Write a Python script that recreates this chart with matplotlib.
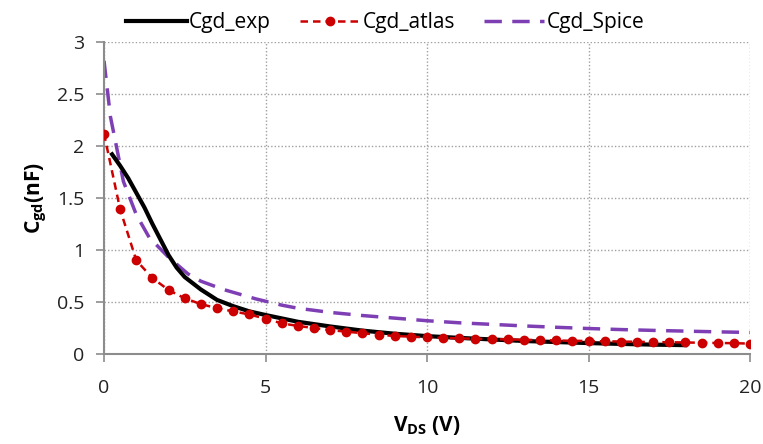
import matplotlib
matplotlib.use("Agg")
import matplotlib.pyplot as plt

# Experimental Cgd
exp_v = [0.25, 0.5, 0.75, 1.0, 1.25, 1.5, 1.75, 2.0, 2.25, 2.5, 3.0, 3.5, 4.0, 4.5, 5.0,
         6.0, 7.0, 8.0, 9.0, 10.0, 11.0, 12.0, 13.0, 14.0, 15.0, 16.0, 17.0, 18.0]
exp_c = [1.92, 1.81, 1.69, 1.55, 1.41, 1.25, 1.10, 0.95, 0.83, 0.74, 0.62, 0.52, 0.46, 0.41, 0.375,
         0.31, 0.265, 0.225, 0.195, 0.172, 0.155, 0.14, 0.125, 0.115, 0.105, 0.097, 0.09, 0.085]

# Atlas simulation
atlas_v = [0.0, 0.5, 1.0, 1.5, 2.0, 2.5, 3.0, 3.5, 4.0, 4.5, 5.0, 5.5, 6.0, 6.5, 7.0, 7.5,
           8.0, 8.5, 9.0, 9.5, 10.0, 10.5, 11.0, 11.5, 12.0, 12.5, 13.0, 13.5, 14.0, 14.5,
           15.0, 15.5, 16.0, 16.5, 17.0, 17.5, 18.0, 18.5, 19.0, 19.5, 20.0]
atlas_c = [2.12, 1.39, 0.90, 0.73, 0.615, 0.535, 0.48, 0.44, 0.41, 0.38, 0.34, 0.295, 0.27, 0.25,
           0.23, 0.215, 0.20, 0.186, 0.173, 0.167, 0.16, 0.155, 0.15, 0.147, 0.143, 0.14, 0.137,
           0.133, 0.13, 0.127, 0.125, 0.122, 0.12, 0.117, 0.115, 0.113, 0.111, 0.108, 0.106,
           0.104, 0.10]

# Spice model
spice_v = [0.0, 0.1, 0.2, 0.35, 0.6, 1.0, 1.4, 2.0, 2.6, 3.0, 3.7, 4.7, 5.5, 6.0, 7.0,
           8.0, 9.0, 10.0, 11.0, 12.0, 13.0, 14.0, 15.0, 16.0, 17.0, 18.0, 19.0, 20.0]
spice_c = [2.82, 2.55, 2.28, 2.05, 1.66, 1.34, 1.12, 0.93, 0.77, 0.70, 0.62, 0.53, 0.47,
           0.44, 0.40, 0.37, 0.345, 0.32, 0.30, 0.285, 0.27, 0.257, 0.245, 0.235, 0.227, 0.22,
           0.213, 0.207]

plt.rcParams['font.family'] = ['Open Sans', 'DejaVu Sans']
plt.rcParams['mathtext.fontset'] = 'custom'
plt.rcParams['mathtext.bf'] = 'Open Sans:bold'

fig = plt.figure(figsize=(7.63, 4.44), dpi=100)
ax = fig.add_axes([104/763, 1 - 354/444, (750-104)/763, (354-42)/444])

ax.plot(exp_v, exp_c, color='black', lw=3, label='Cgd_exp', zorder=3)
ax.plot(atlas_v, atlas_c, color='#cc0000', lw=1.8, ls=(0, (3, 2)), marker='o', ms=6,
        label='Cgd_atlas', zorder=4)
ax.plot(spice_v, spice_c, color='#7e3fb5', lw=2.5, ls=(0, (5, 3)), label='Cgd_Spice', zorder=2)

ax.set_xlim(0, 20)
ax.set_ylim(0, 3)
ax.set_xticks([0, 5, 10, 15, 20])
ax.set_yticks([0, 0.5, 1, 1.5, 2, 2.5, 3])
ax.set_yticklabels(['0', '0.5', '1', '1.5', '2', '2.5', '3'])
ax.grid(True, color='#a0a0a0', ls=(0, (1, 1.5)), lw=1)
ax.set_axisbelow(True)
for s in ['top', 'right']:
    ax.spines[s].set_visible(False)
for s in ['left', 'bottom']:
    ax.spines[s].set_color('#8c8c8c')
    ax.spines[s].set_linewidth(1.5)
ax.tick_params(axis='both', direction='out', length=6, width=1.2, color='#8c8c8c',
               labelsize=14, labelcolor='#222222')
ax.tick_params(axis='x', pad=12)
ax.tick_params(axis='y', pad=8)

ax.set_xlabel('V$_{\\mathbf{DS}}$ (V)', fontsize=15, fontweight='bold', labelpad=12)
ax.set_ylabel('C$_{\\mathbf{gd}}$(nF)', fontsize=15, fontweight='bold', labelpad=6)

leg = fig.legend(loc='upper center', bbox_to_anchor=(0.505, 1.015), ncol=3, frameon=False,
                 fontsize=15, handlelength=2.9, handletextpad=0.1, columnspacing=1.4)

fig.savefig('out.png', dpi=100)
